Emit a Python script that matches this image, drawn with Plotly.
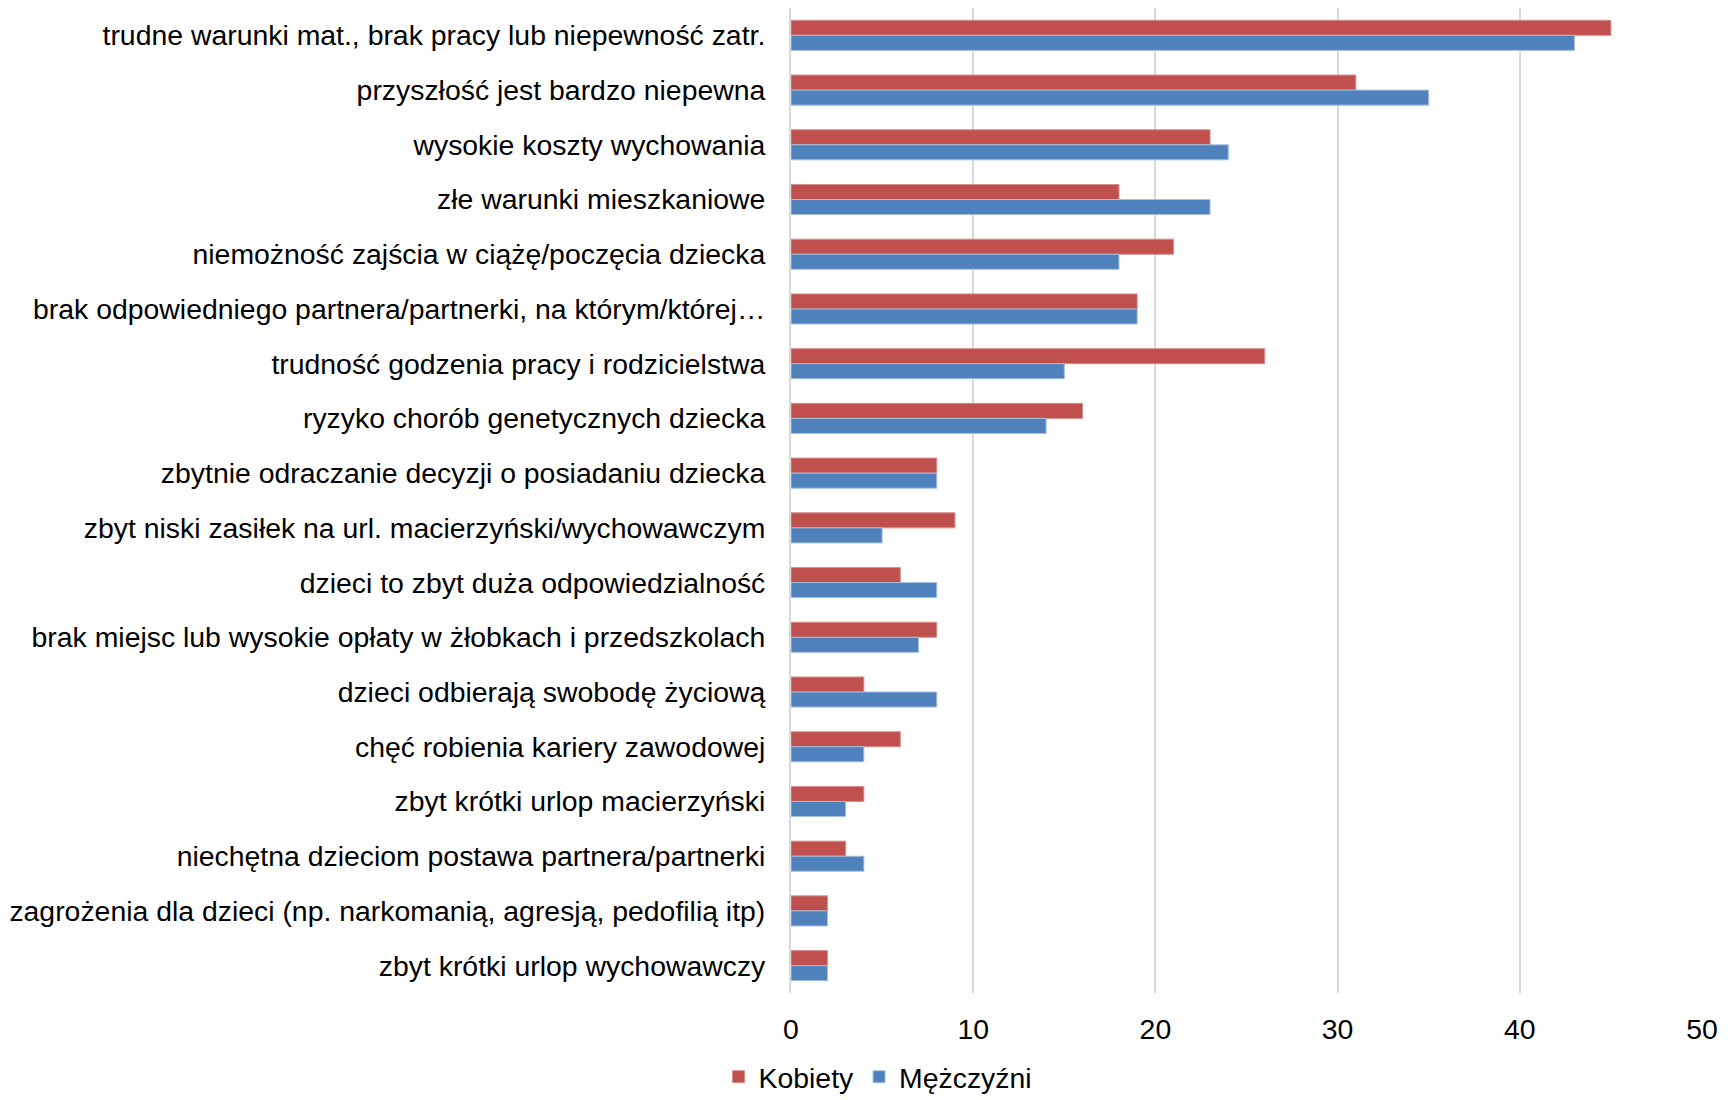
import plotly.graph_objects as go

categories = [
    "trudne warunki mat., brak pracy lub niepewność zatr.",
    "przyszłość jest bardzo niepewna",
    "wysokie koszty wychowania",
    "złe warunki mieszkaniowe",
    "niemożność zajścia w ciążę/poczęcia dziecka",
    "brak odpowiedniego partnera/partnerki, na którym/której…",
    "trudność godzenia pracy i rodzicielstwa",
    "ryzyko chorób genetycznych dziecka",
    "zbytnie odraczanie decyzji o posiadaniu dziecka",
    "zbyt niski zasiłek na url. macierzyński/wychowawczym",
    "dzieci to zbyt duża odpowiedzialność",
    "brak miejsc lub wysokie opłaty w żłobkach i przedszkolach",
    "dzieci odbierają swobodę życiową",
    "chęć robienia kariery zawodowej",
    "zbyt krótki urlop macierzyński",
    "niechętna dzieciom postawa partnera/partnerki",
    "zagrożenia dla dzieci (np. narkomanią, agresją, pedofilią itp)",
    "zbyt krótki urlop wychowawczy",
]
kobiety = [45, 31, 23, 18, 21, 19, 26, 16, 8, 9, 6, 8, 4, 6, 4, 3, 2, 2]
mezczyzni = [43, 35, 24, 23, 18, 19, 15, 14, 8, 5, 8, 7, 8, 4, 3, 4, 2, 2]
x_ticks = [0, 10, 20, 30, 40, 50]

FONT = "Liberation Sans, Arial, sans-serif"
FS = 28.4

fig = go.Figure()
fig.add_trace(go.Bar(
    y=categories, x=kobiety, name="Kobiety", orientation="h",
    marker=dict(color="#C0504D", line=dict(color="#D68E8C", width=1)),
))
fig.add_trace(go.Bar(
    y=categories, x=mezczyzni, name="Mężczyźni", orientation="h",
    marker=dict(color="#4F81BD", line=dict(color="#A7C0DE", width=1)),
))

fig.update_layout(
    width=1728, height=1092,
    margin=dict(l=783, r=34, t=0, b=107, autoexpand=False),
    paper_bgcolor="white", plot_bgcolor="white",
    barmode="group", bargap=0.45, bargroupgap=0,
    font=dict(family=FONT, size=FS, color="black"),
    showlegend=True,
    legend=dict(
        orientation="h", xref="container", yref="paper",
        x=0.5035, xanchor="center", y=-0.085, yanchor="middle",
        font=dict(family=FONT, size=FS, color="black"),
        itemwidth=30, traceorder="normal", tracegroupgap=0,
    ),
)
fig.update_xaxes(
    range=[0, 50], tickvals=x_ticks, ticktext=[str(v) for v in x_ticks],
    showgrid=True, gridcolor="#D9D9D9", gridwidth=2,
    zeroline=False, showline=False, ticks="",
    ticklabelstandoff=17,
    tickfont=dict(family=FONT, size=FS, color="black"),
)
fig.update_yaxes(
    type="category", autorange="reversed",
    showgrid=False, zeroline=False,
    showline=True, linecolor="#D9D9D9", linewidth=2,
    ticks="", ticklabelstandoff=18,
    tickfont=dict(family=FONT, size=FS, color="black"),
)

fig.write_html("out.html")
